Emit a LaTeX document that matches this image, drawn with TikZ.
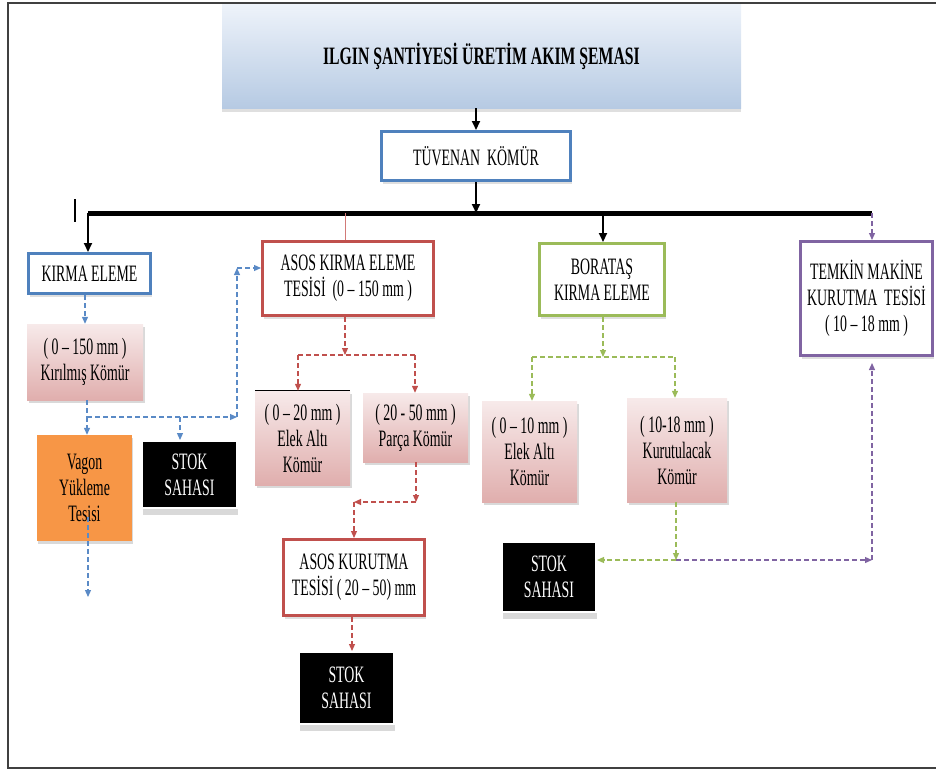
\documentclass[tikz,border=0pt]{standalone}
\usepackage{fontspec}
\setmainfont{Liberation Serif}[FakeStretch=0.59]
\newfontfamily\titlefont{Liberation Serif}[FakeStretch=0.63]
\usetikzlibrary{arrows.meta,shadows}
\definecolor{cblue}{HTML}{4F81BD}
\definecolor{dblue}{HTML}{5A8AC6}
\definecolor{cred}{HTML}{C0504D}
\definecolor{dred}{HTML}{C0504D}
\definecolor{cgreen}{HTML}{9BBB59}
\definecolor{cpurple}{HTML}{8064A2}
\definecolor{pinkT}{HTML}{F7EAEA}
\definecolor{pinkB}{HTML}{E0AEAD}
\definecolor{orng}{HTML}{F79646}
\definecolor{titT}{HTML}{EEF3FA}
\definecolor{titB}{HTML}{B6CAE3}
\definecolor{frm}{HTML}{404040}
\definecolor{pinkline}{HTML}{D27A78}
\begin{document}
\begin{tikzpicture}[x=1pt,y=-1pt,
  lbl/.style={font=\fontsize{23.5}{26}\selectfont, align=center, inner sep=1pt, anchor=center},
  bbox/.style={lbl, draw=#1, line width=3pt, fill=white,
     drop shadow={shadow xshift=1pt,shadow yshift=-3pt,opacity=0.25}},
  pbox/.style={lbl, top color=pinkT, bottom color=pinkB,
     drop shadow={shadow xshift=2pt,shadow yshift=-3pt,opacity=0.3}},
  sbox/.style={lbl, fill=black, text=white, draw=white, line width=2pt,
     drop shadow={shadow xshift=1pt,shadow yshift=-7pt,opacity=0.3}},
  blk/.style={line width=2pt, -{Triangle[length=9pt,width=8pt]}},
  dsh/.style={draw=#1, line width=1.2pt, dash pattern=on 5pt off 3pt, -{Triangle[length=7pt,width=6pt]}},
  dl/.style={draw=#1, line width=1.2pt, dash pattern=on 5pt off 3pt},
]
\useasboundingbox (0,0) rectangle (936,772);
% outer frame
\draw[frm, line width=1.5pt] (936,3) -- (8,3) -- (8,768) -- (936,768);

% title
\node[lbl, font=\titlefont\fontsize{25}{30}\selectfont\bfseries, top color=titT, bottom color=titB,
  minimum width=519pt, minimum height=104pt,
  drop shadow={shadow xshift=0pt,shadow yshift=-4pt,opacity=0.25}] (title) at (481.5,56)
  {\raisebox{-7pt}{ILGIN ŞANTİYESİ ÜRETİM AKIM ŞEMASI}};

\node[bbox=cblue, minimum width=189pt, minimum height=49pt] (tuv) at (476,156) {TÜVENAN\ \ KÖMÜR};

% level 1
\node[bbox=cblue, minimum width=122pt, minimum height=40pt] (kirma) at (89.5,273.5) {KIRMA ELEME};
\node[bbox=cred, minimum width=171pt, minimum height=74pt] (asos) at (348,278.5) {ASOS KIRMA ELEME\\TESİSİ\ \ (0 – 150 mm )};
\node[bbox=cgreen, minimum width=125pt, minimum height=72pt] (bora) at (602,279.5) {BORATAŞ\\KIRMA ELEME};
\node[bbox=cpurple, minimum width=132pt, minimum height=114pt] (temkin) at (866.5,298.5) {TEMKİN MAKİNE\\KURUTMA\ \ TESİSİ\\( 10 – 18 mm )};

% level 2
\node[pbox, minimum width=116pt, minimum height=76pt] (kir) at (85,362) {( 0 – 150 mm )\\Kırılmış Kömür};
\node[pbox, minimum width=95pt, minimum height=94pt] (elek1) at (302.5,438) {( 0 – 20 mm )\\Elek Altı\\Kömür};
\node[pbox, minimum width=105pt, minimum height=69pt] (parca) at (415.5,427.5) {( 20 - 50 mm )\\Parça Kömür};
\node[pbox, minimum width=95pt, minimum height=101pt] (elek2) at (529.5,451.5) {( 0 – 10 mm )\\Elek Altı\\Kömür};
\node[pbox, minimum width=100pt, minimum height=104pt] (kuru) at (677,450) {( 10-18 mm )\\Kurutulacak\\Kömür};
\draw[black, line width=1.2pt] (elek1.north west) -- (elek1.north east);

% level 3
\node[lbl, fill=orng, minimum width=95pt, minimum height=106pt,
  drop shadow={shadow xshift=1pt,shadow yshift=-3pt,opacity=0.3}] (vagon) at (84.5,488) {Vagon\\Yükleme\\Tesisi};
\node[sbox, minimum width=95pt, minimum height=67pt] (stok1) at (189.5,474.5) {STOK\\SAHASI};
\node[bbox=cred, minimum width=141pt, minimum height=76pt] (kurut) at (354,577.5) {ASOS KURUTMA\\TESİSİ ( 20 – 50) mm};
\node[sbox, minimum width=95pt, minimum height=72pt] (stok3) at (346.5,688) {STOK\\SAHASI};
\node[sbox, minimum width=94pt, minimum height=70pt] (stok2) at (549,577) {STOK\\SAHASI};

% black main flow
\coordinate (j0) at (476,213);
\coordinate (busL) at (88,213);
\coordinate (busR) at (872,213);
\coordinate (busA) at (345,213);
\coordinate (busB) at (603,213);
\draw[blk] (tuv.north |- title.south) -- (tuv.north);
\draw[blk] (tuv.south) -- (j0);
\draw[line width=5pt] (busL) -- (busR);
\draw[line width=1.2pt] (75,199) -- (75,222);
\draw[blk] (busL) -- (busL |- kirma.north);
\draw[blk] (busB) -- (busB |- bora.north);
\draw[pinkline, line width=1pt] (busA) -- (busA |- asos.north);
\draw[dsh=cpurple] (busR) -- (busR |- temkin.north);

% blue dashed
\coordinate (b1) at (87,417);
\coordinate (b2) at (237,417);
\coordinate (b3) at (237,268);
\coordinate (b4) at (180,417);
\coordinate (vend) at (88,597);
\draw[dsh=dblue] (kirma.south -| kir.north) -- (kir.north);
\draw[dl=dblue] (kir.south -| b1) -- (b1);
\draw[dsh=dblue] (b1) -- (b1 |- vagon.north);
\draw[dsh=dblue] (b1) -- (b2);
\draw[dsh=dblue] (b2) -- (b3);
\draw[dsh=dblue] (b3) -- (b3 -| asos.west);
\draw[dsh=dblue] (b4) -- (b4 |- stok1.north);
\draw[dsh=dblue] ([yshift=24pt]vagon.south -| vend) -- (vend);

% red dashed
\coordinate (r1) at (345,355);
\coordinate (r2) at (298,355);
\coordinate (r3) at (415,355);
\coordinate (r4) at (416,502);
\coordinate (r5) at (354,502);
\draw[dsh=dred] (asos.south -| r1) -- (r1);
\draw[dl=dred] (r2) -- (r3);
\draw[dsh=dred] (r2) -- (r2 |- elek1.north);
\draw[dsh=dred] (r3) -- (r3 |- parca.north);
\draw[dsh=dred] (parca.south -| r4) -- (r4);
\draw[dsh=dred] (r4) -- (r5);
\draw[dsh=dred] (r5) -- (r5 |- kurut.north);
\draw[dsh=dred] (kurut.south -| 352,0) -- (stok3.north -| 352,0);

% green dashed
\coordinate (g1) at (603,357);
\coordinate (g2) at (532,357);
\coordinate (g3) at (675,357);
\coordinate (g4) at (676,560);
\coordinate (p2) at (872,560);
\draw[dsh=cgreen] (bora.south -| g1) -- (g1);
\draw[dl=cgreen] (g2) -- (g3);
\draw[dsh=cgreen] (g2) -- (g2 |- elek2.north);
\draw[dsh=cgreen] (g3) -- (g3 |- kuru.north);
\draw[dsh=cgreen] (kuru.south -| g4) -- (g4);
\draw[dsh=cgreen] (g4) -- (stok2.east |- g4);

% purple dashed
\draw[dsh=cpurple] (g4) -- (p2);
\draw[dsh=cpurple] (p2) -- ([yshift=-6pt]temkin.south -| p2);
\end{tikzpicture}
\end{document}
